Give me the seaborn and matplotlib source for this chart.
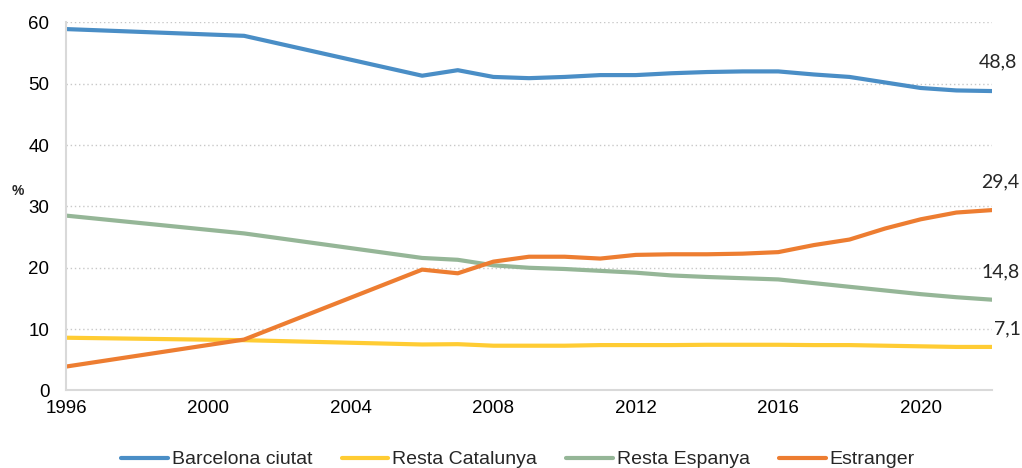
import matplotlib
matplotlib.use("Agg")
import matplotlib.pyplot as plt
import numpy as np
import pandas as pd
import seaborn as sns

# --- data ---
years = [1996, 2001, 2006, 2007, 2008, 2009, 2010, 2011, 2012, 2013, 2014,
         2015, 2016, 2017, 2018, 2019, 2020, 2021, 2022]
barcelona = [58.9, 57.8, 51.3, 52.2, 51.1, 50.9, 51.1, 51.4, 51.4, 51.7, 51.9,
             52.0, 52.0, 51.5, 51.1, 50.2, 49.3, 48.9, 48.8]
resta_cat = [8.6, 8.2, 7.5, 7.55, 7.3, 7.3, 7.3, 7.4, 7.4, 7.4, 7.45,
             7.45, 7.45, 7.4, 7.4, 7.3, 7.2, 7.1, 7.1]
resta_esp = [28.5, 25.6, 21.6, 21.3, 20.4, 20.0, 19.8, 19.5, 19.2, 18.75, 18.5,
             18.3, 18.1, 17.5, 16.9, 16.3, 15.7, 15.2, 14.8]
estranger = [3.9, 8.3, 19.7, 19.1, 21.0, 21.8, 21.8, 21.5, 22.1, 22.2, 22.2,
             22.3, 22.55, 23.7, 24.6, 26.4, 27.9, 29.0, 29.4]

series_names = ["Barcelona ciutat", "Resta Catalunya", "Resta Espanya", "Estranger"]
colors = ["#4a8ec6", "#ffcc33", "#95b697", "#ed7d31"]
end_labels = ["48,8", "7,1", "14,8", "29,4"]

df = pd.DataFrame({
    "year": years * 4,
    "value": barcelona + resta_cat + resta_esp + estranger,
    "serie": np.repeat(series_names, len(years)),
})

sns.set_theme(style="white")
plt.rcParams["font.family"] = ["Liberation Sans", "DejaVu Sans"]

fig = plt.figure(figsize=(10.22, 4.68), dpi=100)
ax = fig.add_axes([0.0646, 0.1656, 0.906, 0.7867])

sns.lineplot(data=df, x="year", y="value", hue="serie", hue_order=series_names,
             palette=colors, linewidth=3.0, ax=ax, legend=True)

ax.set_xlim(1996, 2022)
ax.set_ylim(0, 60)
ax.set_xticks(range(1996, 2022, 4))
ax.set_yticks(range(0, 61, 10))
ax.set_xlabel("")
ax.set_ylabel("")
ax.tick_params(axis="both", labelsize=13.5, colors="#d9d9d9", labelcolor="black",
               length=5, width=1)
ax.tick_params(axis="x", pad=2)
ax.tick_params(axis="y", pad=7)

ax.yaxis.grid(True, linestyle=(0, (1, 2)), color="#c8c8c8", linewidth=1)
ax.set_axisbelow(True)
for side in ["top", "right"]:
    ax.spines[side].set_visible(False)
for side in ["left", "bottom"]:
    ax.spines[side].set_color("#d9d9d9")
    ax.spines[side].set_linewidth(1.5)

# end-of-line value labels
last_vals = [barcelona[-1], resta_cat[-1], resta_esp[-1], estranger[-1]]
offsets = [(4, 21), (11, 13), (6, 20), (6, 20)]
for val, lab, off in zip(last_vals, end_labels, offsets):
    ax.annotate(lab, xy=(years[-1], val), xytext=off, textcoords="offset points",
                ha="center", va="center", fontsize=14, family=["Lato", "DejaVu Sans"],
                annotation_clip=False)

fig.text(0.0175, 0.592, "%", fontsize=10, fontweight="bold", ha="center", va="center")

handles, labels = ax.get_legend_handles_labels()
ax.legend_.remove()
leg = fig.legend(handles, labels, loc="center", bbox_to_anchor=(0.507, 0.018),
                 ncol=4, frameon=False, handlelength=2.4, columnspacing=1.5,
                 handletextpad=0.2, prop={"size": 14})
for line in leg.get_lines():
    line.set_linewidth(3.0)

fig.savefig("out.png", dpi=100)
